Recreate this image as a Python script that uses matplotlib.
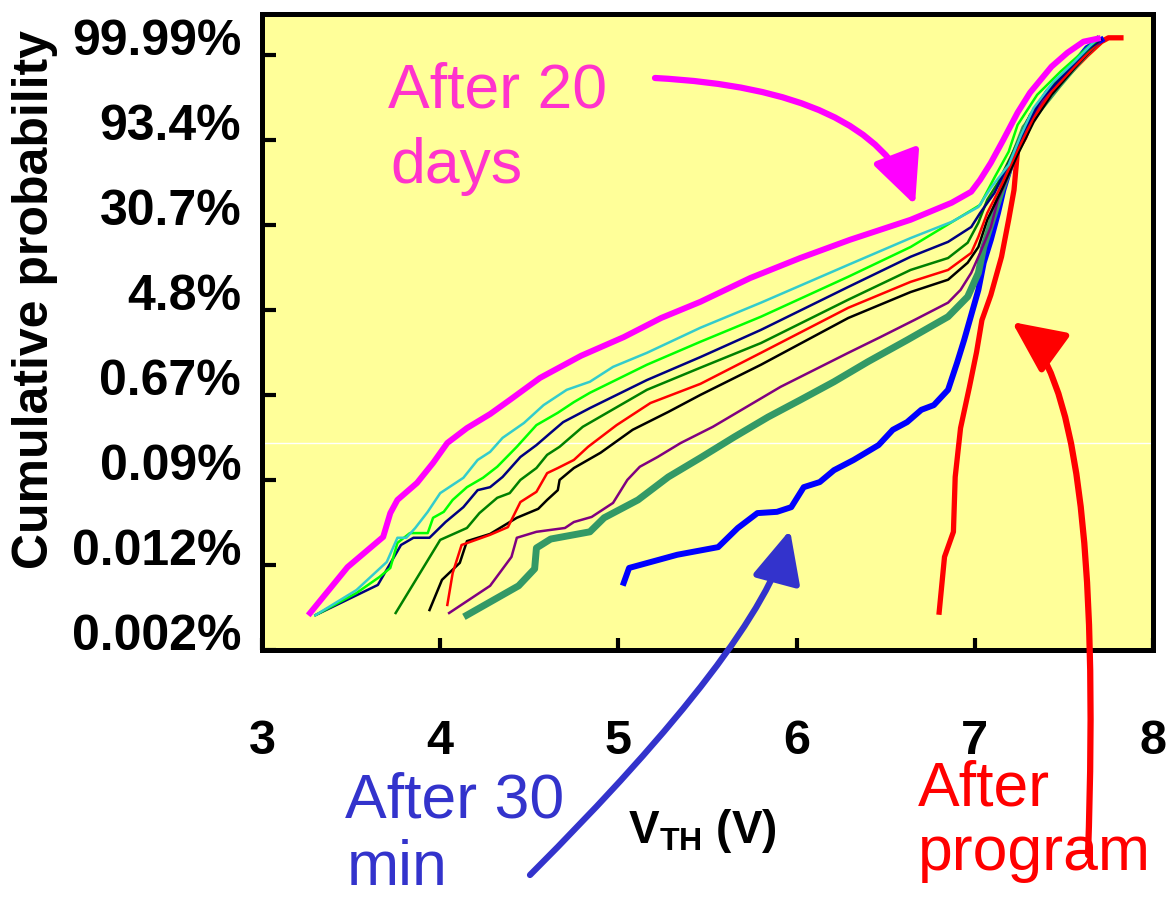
import matplotlib.pyplot as plt
from matplotlib.transforms import ScaledTranslation

plt.rcParams['font.family'] = ['Liberation Sans', 'DejaVu Sans']
plt.rcParams['mathtext.fontset'] = 'custom'
plt.rcParams['mathtext.rm'] = 'Liberation Sans'
plt.rcParams['mathtext.bf'] = 'Liberation Sans:bold'

# y axis is a Weibull probability scale: w = ln(-ln(1 - F))
prob_ticks = [3, 1, -1, -3, -5, -7, -9, -11]
prob_labels = ['99.99%', '93.4%', '30.7%', '4.8%', '0.67%', '0.09%', '0.012%', '0.002%']
vth_ticks = [3, 4, 5, 6, 7, 8]

# After program (thick red)
vth_program = [6.80, 6.83, 6.88, 6.89, 6.92, 6.97, 7.01, 7.04, 7.09, 7.15, 7.19, 7.22, 7.24, 7.28,
               7.33, 7.41, 7.52, 7.63, 7.71, 7.75, 7.82]
w_program = [-10.11, -8.81, -8.22, -6.93, -5.78, -4.81, -3.99, -3.24, -2.65, -1.75, -0.88, -0.18, 0.76, 1.05,
             1.59, 2.06, 2.53, 3.00, 3.31, 3.40, 3.40]

# After 30 min (thick blue)
vth_30min = [5.03, 5.06, 5.33, 5.56, 5.67, 5.78, 5.89, 5.97, 6.04, 6.13, 6.21, 6.32, 6.46, 6.54, 6.62, 6.70,
             6.77, 6.85, 6.90, 6.94, 6.98, 7.02, 7.05, 7.09, 7.13, 7.16, 7.22, 7.30, 7.41, 7.54, 7.63, 7.71]
w_30min = [-9.42, -9.07, -8.76, -8.58, -8.13, -7.78, -7.75, -7.64, -7.17, -7.05, -6.77, -6.53, -6.18, -5.82,
           -5.64, -5.35, -5.24, -4.88, -4.25, -3.71, -3.12, -2.53, -1.89, -1.35, -0.72, -0.18, 0.65, 1.42,
           2.13, 2.69, 3.16, 3.35]

# intermediate retention times
vth_seagreen = [4.15, 4.44, 4.53, 4.54, 4.62, 4.84, 4.92, 5.11, 5.28, 5.46, 5.65, 5.84, 6.02, 6.21, 6.40,
                6.62, 6.85, 6.96, 7.02, 7.05, 7.11, 7.15, 7.20, 7.28, 7.35, 7.47, 7.60, 7.69]
w_seagreen = [-10.18, -9.49, -9.09, -8.60, -8.39, -8.22, -7.89, -7.47, -6.93, -6.48, -5.99, -5.52, -5.12,
              -4.69, -4.22, -3.71, -3.16, -2.69, -2.13, -1.52, -0.72, -0.18, 0.41, 1.28, 1.66, 2.29, 2.93, 3.35]

vth_purple = [4.05, 4.28, 4.40, 4.43, 4.54, 4.70, 4.75, 4.85, 4.97, 5.05, 5.12, 5.22, 5.35, 5.53, 5.72, 5.91,
              6.10, 6.29, 6.47, 6.66, 6.85, 6.92, 6.98, 7.03, 7.09, 7.13, 7.19, 7.26, 7.34, 7.43, 7.56, 7.69]
w_purple = [-10.13, -9.49, -8.81, -8.36, -8.22, -8.13, -7.99, -7.87, -7.54, -7.00, -6.69, -6.46, -6.13, -5.75,
            -5.28, -4.81, -4.41, -4.01, -3.64, -3.24, -2.83, -2.53, -2.13, -1.66, -1.05, -0.41, 0.18, 0.88,
            1.66, 2.22, 2.81, 3.28]

vth_black = [3.94, 4.01, 4.11, 4.15, 4.28, 4.43, 4.55, 4.60, 4.66, 4.67, 4.75, 4.90, 5.08, 5.28, 5.46, 5.80,
             6.29, 6.64, 6.85, 6.96, 7.02, 7.07, 7.15, 7.24, 7.33, 7.43, 7.56, 7.69]
w_black = [-10.06, -9.35, -8.95, -8.44, -8.27, -7.89, -7.68, -7.47, -7.24, -7.00, -6.72, -6.36, -5.82, -5.40,
           -5.00, -4.29, -3.19, -2.58, -2.29, -1.89, -1.52, -0.88, -0.18, 0.65, 1.42, 2.06, 2.69, 3.28]

vth_red = [4.04, 4.07, 4.12, 4.28, 4.38, 4.45, 4.54, 4.60, 4.66, 4.75, 4.83, 4.99, 5.18, 5.46, 5.80, 6.29,
           6.64, 6.85, 6.98, 7.02, 7.07, 7.15, 7.24, 7.33, 7.43, 7.56, 7.69]
w_red = [-9.94, -9.19, -8.53, -8.29, -8.11, -7.52, -7.28, -6.84, -6.72, -6.53, -6.22, -5.71, -5.19, -4.74,
         -4.01, -2.95, -2.34, -2.06, -1.66, -1.28, -0.72, -0.06, 0.76, 1.52, 2.13, 2.72, 3.28]

vth_dkgreen = [3.75, 4.00, 4.15, 4.22, 4.32, 4.39, 4.45, 4.54, 4.60, 4.67, 4.80, 5.16, 5.46, 5.80, 6.29, 6.64,
               6.85, 6.96, 7.02, 7.07, 7.13, 7.22, 7.31, 7.41, 7.54, 7.69]
w_dkgreen = [-10.13, -8.41, -8.13, -7.78, -7.42, -7.31, -7.00, -6.72, -6.41, -6.22, -5.75, -4.88, -4.36, -3.78,
             -2.76, -2.06, -1.78, -1.42, -0.95, -0.41, -0.01, 0.76, 1.59, 2.18, 2.76, 3.31]

vth_navy = [3.30, 3.65, 3.78, 3.85, 3.94, 4.03, 4.13, 4.21, 4.28, 4.35, 4.45, 4.54, 4.62, 4.69, 4.79, 4.84,
            5.16, 5.46, 5.80, 6.29, 6.64, 6.85, 6.98, 7.03, 7.11, 7.20, 7.28, 7.37, 7.50, 7.63, 7.71]
w_navy = [-10.18, -9.47, -8.53, -8.36, -8.36, -7.99, -7.64, -7.24, -7.17, -6.93, -6.46, -6.18, -5.89, -5.64,
          -5.42, -5.31, -4.65, -4.11, -3.47, -2.46, -1.75, -1.40, -1.05, -0.72, -0.25, 0.53, 1.24, 1.94,
          2.53, 3.12, 3.35]

vth_lime = [3.30, 3.53, 3.66, 3.72, 3.76, 3.83, 3.93, 3.96, 4.02, 4.07, 4.15, 4.24, 4.32, 4.43, 4.54, 4.66,
            4.75, 4.84, 5.16, 5.46, 5.80, 6.29, 6.64, 6.94, 7.03, 7.11, 7.19, 7.24, 7.35, 7.48, 7.63, 7.69]
w_lime = [-10.18, -9.66, -9.28, -9.07, -8.48, -8.25, -8.25, -7.89, -7.75, -7.47, -7.17, -6.95, -6.69, -6.22,
          -5.71, -5.42, -5.17, -4.95, -4.29, -3.75, -3.16, -2.22, -1.52, -0.76, -0.53, 0.11, 0.72, 1.35,
          2.06, 2.60, 3.16, 3.35]

vth_cyan = [3.30, 3.53, 3.70, 3.76, 3.81, 3.86, 3.93, 4.00, 4.13, 4.21, 4.28, 4.35, 4.47, 4.58, 4.71, 4.84,
            4.97, 5.16, 5.46, 5.80, 6.29, 6.64, 6.87, 7.02, 7.09, 7.19, 7.26, 7.33, 7.44, 7.56, 7.67]
w_cyan = [-10.18, -9.59, -8.93, -8.36, -8.36, -8.13, -7.75, -7.31, -6.95, -6.53, -6.34, -6.01, -5.66, -5.24,
          -4.88, -4.69, -4.34, -4.01, -3.42, -2.83, -1.94, -1.31, -0.93, -0.58, -0.13, 0.41, 1.12, 1.75,
          2.36, 2.84, 3.31]

# After 20 days (thick magenta)
vth_20days = [3.27, 3.48, 3.68, 3.72, 3.76, 3.87, 3.96, 4.04, 4.15, 4.28, 4.39, 4.56, 4.79, 5.03, 5.24, 5.46,
              5.74, 6.02, 6.30, 6.64, 6.87, 6.98, 7.03, 7.09, 7.16, 7.24, 7.31, 7.43, 7.52, 7.61, 7.69]
w_20days = [-10.13, -9.05, -8.34, -7.78, -7.47, -7.07, -6.60, -6.13, -5.78, -5.45, -5.12, -4.60, -4.08, -3.64,
            -3.19, -2.81, -2.25, -1.78, -1.35, -0.88, -0.48, -0.22, 0.06, 0.46, 1.00, 1.64, 2.11, 2.72, 3.05,
            3.31, 3.38]

curves = [
    (vth_program, w_program, '#FF0000', 3.8),
    (vth_30min, w_30min, '#0000FF', 4.3),
    (vth_seagreen, w_seagreen, '#339966', 5.0),
    (vth_purple, w_purple, '#800080', 1.8),
    (vth_black, w_black, '#000000', 1.8),
    (vth_red, w_red, '#FF0000', 1.8),
    (vth_dkgreen, w_dkgreen, '#008000', 1.8),
    (vth_navy, w_navy, '#000080', 1.8),
    (vth_lime, w_lime, '#00FF00', 1.8),
    (vth_cyan, w_cyan, '#33CCCC', 1.8),
    (vth_20days, w_20days, '#FF00FF', 4.3),
]

fig = plt.figure(figsize=(11.73, 9), dpi=100)
ax = fig.add_axes([262 / 1173, 1 - 650 / 900, 891 / 1173, 636 / 900])
ax.set_facecolor('#FFFF99')

# faint white scan line across the plot
ax.axhline(-6.13, color='white', lw=1, zorder=1)

for x, y, c, lw in curves:
    ax.plot(x, y, color=c, lw=lw, solid_joinstyle='round', zorder=2)

ax.set_xlim(3, 8)
ax.set_ylim(-11, 3.96)
ax.set_xticks(vth_ticks)
ax.set_yticks(prob_ticks)
ax.set_yticklabels(prob_labels)
for s in ax.spines.values():
    s.set_linewidth(3.6)
ax.tick_params(axis='x', direction='in', length=9, width=3, pad=50, labelsize=35)
ax.tick_params(axis='y', direction='in', length=10, width=3, pad=15, labelsize=36)
for lbl in ax.get_xticklabels() + ax.get_yticklabels():
    lbl.set_fontweight('bold')
shift = ScaledTranslation(0, 0.18, fig.dpi_scale_trans)
for lbl in ax.get_yticklabels():
    lbl.set_transform(lbl.get_transform() + shift)

fig.text(35 / 1173, 1 - 300 / 900, 'Cumulative probability', rotation=90, ha='center', va='center',
         fontsize=36, fontweight='bold')
fig.text(702 / 1173, 1 - 843 / 900, r'V$_{\mathbf{TH}}$ (V)', ha='center', va='baseline',
         fontsize=33, fontweight='bold')

# labels for the three highlighted curves
fig.text(388 / 1173, 1 - 107 / 900, 'After 20', color='#FF33CC', fontsize=45, va='baseline')
fig.text(390 / 1173, 1 - 183 / 900, 'days', color='#FF33CC', fontsize=45, va='baseline')
fig.text(345 / 1173, 1 - 818 / 900, 'After 30', color='#3333CC', fontsize=45, va='baseline')
fig.text(347 / 1173, 1 - 885 / 900, 'min', color='#3333CC', fontsize=45, va='baseline')
fig.text(918 / 1173, 1 - 805 / 900, 'After', color='#FF0000', fontsize=45, va='baseline')
fig.text(918 / 1173, 1 - 870 / 900, 'program', color='#FF0000', fontsize=45, va='baseline')

arrow = '-|>,head_length=1.6,head_width=0.75'
ax.annotate('', xy=(915, 900 - 205), xycoords='figure pixels', xytext=(655, 900 - 78),
            textcoords='figure pixels',
            arrowprops=dict(arrowstyle=arrow, color='#FF00FF', lw=4.5, mutation_scale=20,
                            connectionstyle='angle3,angleA=-3,angleB=-69', shrinkA=0, shrinkB=0))
ax.annotate('', xy=(790, 900 - 530), xycoords='figure pixels', xytext=(530, 900 - 875),
            textcoords='figure pixels', annotation_clip=False,
            arrowprops=dict(arrowstyle=arrow, color='#3333CC', lw=4.5, mutation_scale=20,
                            connectionstyle='angle3,angleA=45,angleB=75', shrinkA=0, shrinkB=0))
ax.annotate('', xy=(1012, 900 - 322), xycoords='figure pixels', xytext=(1088, 900 - 855),
            textcoords='figure pixels', annotation_clip=False,
            arrowprops=dict(arrowstyle=arrow, color='#FF0000', lw=4.5, mutation_scale=20,
                            connectionstyle='angle3,angleA=88,angleB=-36', shrinkA=0, shrinkB=0))

plt.savefig('out.png', dpi=100)
